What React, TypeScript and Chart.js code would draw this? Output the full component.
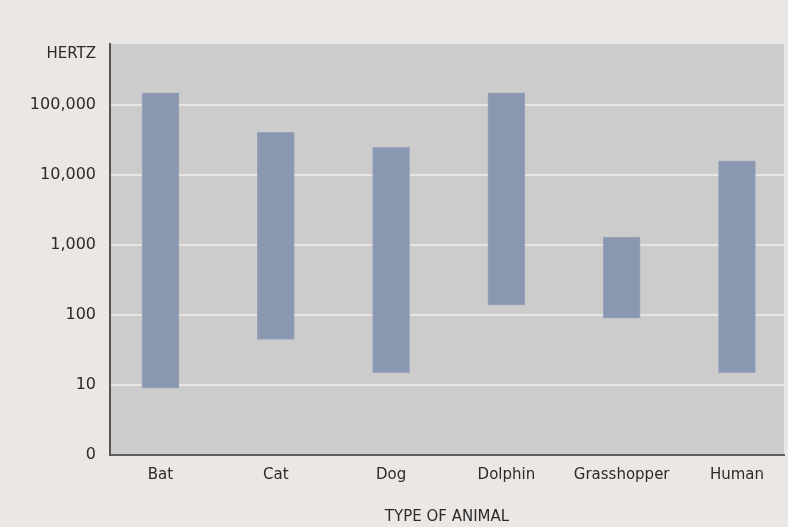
import React, { useEffect, useRef } from "react";
import { Chart, registerables } from "chart.js";

Chart.register(...registerables);

// Hearing range of each animal, in hertz
const animals = ["Bat", "Cat", "Dog", "Dolphin", "Grasshopper", "Human"];
const lowHz = [9, 45, 15, 140, 90, 15];
const highHz = [150000, 41000, 25000, 150000, 1300, 16000];

// Decade ticks on the log axis; the bottom one (1 Hz) is labelled "0"
const yTickValues = [1, 10, 100, 1000, 10000, 100000];
const yTickLabels = ["0", "10", "100", "1,000", "10,000", "100,000"];
const yMax = 750000;

const PAGE_BG = "#ebe7e4";
const PLOT_BG = "#cccccc";
const TEXT = "#2b2b2b";
const FONT = "'DejaVu Sans', sans-serif";

const backgroundPlugin = {
  id: "panelBackground",
  beforeDraw(chart: any) {
    const { ctx, chartArea, width, height } = chart;
    ctx.save();
    ctx.fillStyle = PAGE_BG;
    ctx.fillRect(0, 0, width, height);
    ctx.fillStyle = PLOT_BG;
    ctx.fillRect(chartArea.left, chartArea.top, chartArea.right - chartArea.left, chartArea.bottom - chartArea.top);
    ctx.restore();
  },
};

const unitLabelPlugin = {
  id: "unitLabel",
  afterDraw(chart: any) {
    const { ctx, chartArea } = chart;
    ctx.save();
    ctx.font = `15px ${FONT}`;
    ctx.fillStyle = TEXT;
    ctx.textAlign = "right";
    ctx.textBaseline = "middle";
    ctx.fillText("HERTZ", chartArea.left - 14, chartArea.top + 10);
    ctx.restore();
  },
};

export default function App() {
  const canvasRef = useRef<HTMLCanvasElement | null>(null);

  useEffect(() => {
    document.body.style.margin = "0";
    document.body.style.background = PAGE_BG;
    const canvas = canvasRef.current;
    if (!canvas) return;

    const data = animals.map((_, i) => ({ x: i, y: [lowHz[i], highHz[i]] }));

    const chart = new Chart(canvas, {
      type: "bar",
      data: {
        datasets: [
          {
            data: data as any,
            backgroundColor: "#8997b0",
            borderColor: "#9aa5ba",
            borderWidth: 1,
            borderSkipped: false,
            barThickness: 37,
          },
        ],
      },
      options: {
        responsive: false,
        animation: false,
        layout: { padding: { top: 44, right: 4, left: 0, bottom: 0 } },
        plugins: {
          legend: { display: false },
          tooltip: { enabled: false },
        },
        scales: {
          x: {
            type: "linear",
            offset: false,
            min: -0.438,
            max: 5.408,
            afterBuildTicks: (axis: any) => {
              axis.ticks = animals.map((_, i) => ({ value: i }));
            },
            afterFit: (axis: any) => {
              axis.height = 72;
            },
            grid: { display: false, drawTicks: false, offset: false },
            border: { display: true, color: "#5e5e5e", width: 2 },
            ticks: {
              padding: 11,
              color: TEXT,
              font: { family: FONT, size: 15 },
              maxRotation: 0,
              autoSkip: false,
              callback: (v: any) => animals[Math.round(Number(v))] ?? "",
            },
            title: {
              display: true,
              text: "TYPE OF ANIMAL",
              color: TEXT,
              font: { family: FONT, size: 15 },
              padding: { top: 0, bottom: 1 },
            },
          },
          y: {
            type: "logarithmic",
            min: 1,
            max: yMax,
            afterBuildTicks: (axis: any) => {
              axis.ticks = yTickValues.map((v) => ({ value: v }));
            },
            afterFit: (axis: any) => {
              axis.width = 110;
            },
            grid: {
              drawTicks: false,
              lineWidth: 2,
              color: (ctx: any) => (ctx.tick && ctx.tick.value === 1 ? "rgba(0,0,0,0)" : "#e9e5e2"),
            },
            border: { display: true, color: "#555555", width: 2 },
            ticks: {
              padding: 14,
              color: TEXT,
              font: { family: FONT, size: 16 },
              autoSkip: false,
              callback: (v: any) => {
                const idx = yTickValues.indexOf(Number(v));
                return idx >= 0 ? yTickLabels[idx] : "";
              },
            },
          },
        },
      },
      plugins: [backgroundPlugin, unitLabelPlugin],
    });

    return () => chart.destroy();
  }, []);

  return (
    <div style={{ width: 788, height: 527, background: PAGE_BG }}>
      <canvas ref={canvasRef} width={788} height={527} />
    </div>
  );
}
